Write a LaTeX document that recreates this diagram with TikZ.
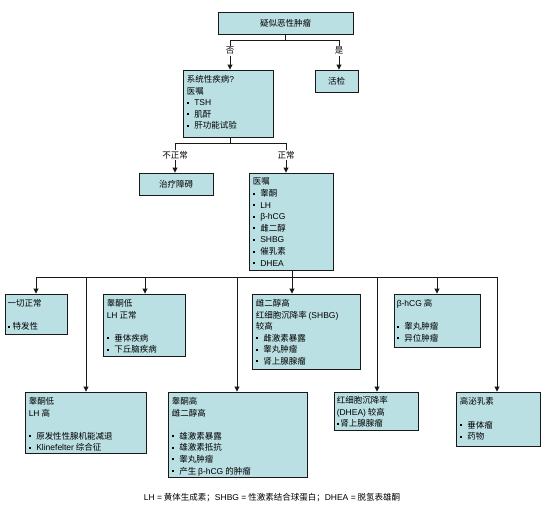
\documentclass[tikz,border=0pt]{standalone}
\usepackage{fontspec}
\setmainfont{Noto Sans CJK SC}
\newfontfamily\lat{Liberation Sans}
\usetikzlibrary{arrows.meta,fit}
\definecolor{boxfill}{RGB}{187,224,227}
\definecolor{edge}{RGB}{25,25,25}
\newcommand\bul{\rule[2pt]{2pt}{2pt}\hspace{5.5pt}}
\begin{document}
\begin{tikzpicture}[x=1pt,y=-1pt,
  font=\fontsize{8.5}{11.6}\selectfont,
  box/.style={draw=edge,line width=0.9pt,fill=boxfill,inner sep=0pt},
  txt/.style={align=left,inner sep=0pt,anchor=north west},
  conn/.style={draw=edge,line width=0.9pt},
  arr/.style={conn,-{Triangle[width=5pt,length=5pt]}},
  lbl/.style={fill=white,inner sep=1pt}]
\useasboundingbox[fill=white] (0,0) rectangle (558,512);

% boxes
\node[box,fit={(218,12) (353,34)}] (top) {};
\node[box,fit={(183,70) (273,137)}] (sys) {};
\node[box,fit={(315,70) (358,92)}] (bio) {};
\node[box,fit={(139,173) (213,195)}] (treat) {};
\node[box,fit={(249,173) (333,270)}] (ord) {};
\node[box,fit={(5,294) (67,334)}] (alln) {};
\node[box,fit={(103,294) (185,356)}] (tlow) {};
\node[box,fit={(252,294) (360,369)}] (ehi) {};
\node[box,fit={(394,294) (480,347)}] (hcg) {};
\node[box,fit={(25,392) (146,453)}] (tlh) {};
\node[box,fit={(168,392) (307,477)}] (thi) {};
\node[box,fit={(334,392) (418,430)}] (dhea) {};
\node[box,fit={(456,392) (540,446)}] (prl) {};

% texts
\node (topt) at (top.center) {疑似恶性肿瘤};
\node (biot) at (bio.center) {活检};
\node (treatt) at (treat.center) {治疗障碍};
\node[txt] (syst) at ([xshift=4pt,yshift=-5.5pt]sys.north west)
  {系统性疾病{\lat ?}\\医嘱\\\bul{\lat TSH}\\\bul 肌酐\\\bul 肝功能试验};
\node[txt] (ordt) at ([xshift=4pt,yshift=-5.5pt]ord.north west)
  {医嘱\\\bul 睾酮\\\bul{\lat LH}\\\bul{\lat β-hCG}\\\bul 雌二醇\\\bul{\lat SHBG}\\\bul 催乳素\\\bul{\lat DHEA}};
\node[txt] (allnt) at ([xshift=3pt,yshift=-5.5pt]alln.north west)
  {一切正常\\[11.6pt]\rule[2pt]{2pt}{2pt}\hspace{3pt}特发性};
\node[txt] (tlowt) at ([xshift=4pt,yshift=-5.5pt]tlow.north west)
  {睾酮低\\{\lat LH} 正常\\[11.6pt]\bul 垂体疾病\\\bul 下丘脑疾病};
\node[txt] (ehit) at ([xshift=4pt,yshift=-5.5pt]ehi.north west)
  {雌二醇高\\红细胞沉降率 {\lat (SHBG)}\\较高\\\bul 雌激素暴露\\\bul 睾丸肿瘤\\\bul 肾上腺腺瘤};
\node[txt] (hcgt) at ([xshift=3pt,yshift=-5.5pt]hcg.north west)
  {{\lat β-hCG} 高\\[11.6pt]\bul 睾丸肿瘤\\\bul 异位肿瘤};
\node[txt] (tlht) at ([xshift=4pt,yshift=-5.5pt]tlh.north west)
  {睾酮低\\{\lat LH} 高\\[11.6pt]\bul 原发性性腺机能减退\\\bul{\lat Klinefelter} 综合征};
\node[txt] (thit) at ([xshift=4pt,yshift=-5.5pt]thi.north west)
  {睾酮高\\雌二醇高\\[11.6pt]\bul 雄激素暴露\\\bul 雄激素抵抗\\\bul 睾丸肿瘤\\\bul 产生 {\lat β-hCG} 的肿瘤};
\node[txt] (dheat) at ([xshift=3pt,yshift=-4.5pt]dhea.north west)
  {红细胞沉降率\\{\lat (DHEA)} 较高\\\rule[2pt]{2pt}{2pt}\hspace{1.5pt}肾上腺腺瘤};
\node[txt] (prlt) at ([xshift=4pt,yshift=-6pt]prl.north west)
  {高泌乳素\\[11.6pt]\bul 垂体瘤\\\bul 药物};

% level 1 connectors
\coordinate (j1) at (285.5,40);
\coordinate (j1l) at (230,40);
\coordinate (j1r) at (339,40);
\draw[conn] (top.south) -- (j1);
\draw[conn] (j1l) -- (j1r);
\draw[arr] (j1l) -- (j1l |- sys.north) node[lbl,pos=0.37] (lno) {否};
\draw[arr] (j1r) -- (j1r |- bio.north) node[lbl,pos=0.37] (lyes) {是};

% level 2 connectors
\coordinate (j2) at (230,143);
\coordinate (j2l) at (175,143);
\coordinate (j2r) at (286,143);
\draw[conn] (sys.south -| j2) -- (j2);
\draw[conn] (j2l) -- (j2r);
\draw[arr] (j2l) -- (j2l |- treat.north) node[lbl,pos=0.4] (labn) {不正常};
\draw[arr] (j2r) -- (j2r |- ord.north) node[lbl,pos=0.4] (lnor) {正常};

% level 3 connectors
\coordinate (j3) at (292,277);
\coordinate (j3l) at (36,277);
\coordinate (j3r) at (497,277);
\draw[conn] (ord.south -| j3) -- (j3);
\draw[conn] (j3l) -- (j3r);
\coordinate (a1) at (36,277);
\coordinate (a2) at (145,277);
\coordinate (a3) at (292,277);
\coordinate (a4) at (437,277);
\coordinate (b1) at (86,277);
\coordinate (b2) at (237,277);
\coordinate (b3) at (377,277);
\coordinate (b4) at (497,277);
\draw[arr] (a1) -- (a1 |- alln.north);
\draw[arr] (a2) -- (a2 |- tlow.north);
\draw[arr] (a3) -- (a3 |- ehi.north);
\draw[arr] (a4) -- (a4 |- hcg.north);
\draw[arr] (b1) -- (b1 |- tlh.north);
\draw[arr] (b2) -- (b2 |- thi.north);
\draw[arr] (b3) -- (b3 |- dhea.north);
\draw[arr] (b4) -- (b4 |- prl.north);

% footnote
\node (foot) at (272,498) {{\lat LH =} 黄体生成素；{\lat SHBG =} 性激素结合球蛋白；{\lat DHEA =} 脱氢表雄酮};
\end{tikzpicture}
\end{document}
